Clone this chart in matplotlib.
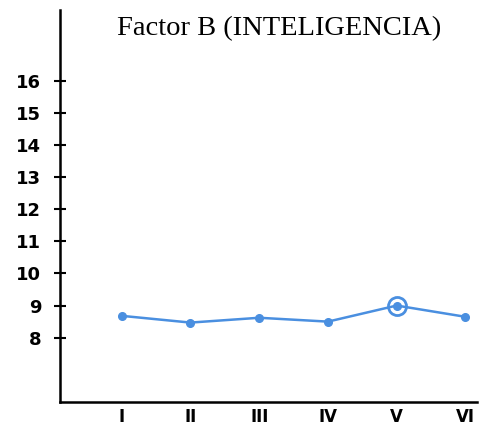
import matplotlib
matplotlib.use("Agg")
import matplotlib.pyplot as plt

categories = ["I", "II", "III", "IV", "V", "VI"]
values = [8.68, 8.47, 8.62, 8.50, 9.00, 8.65]
yticks = [8, 9, 10, 11, 12, 13, 14, 15, 16]
highlight_index = 4
title = "Factor B (INTELIGENCIA)"

color = "#4a8fe0"

fig = plt.figure(figsize=(4.79, 4.29), dpi=100)
ax = fig.add_axes([0.125, 0.063, 0.871, 0.914])

x = list(range(1, len(categories) + 1))
ax.plot(x, values, color=color, lw=1.8, marker="o", ms=5.5, zorder=3)
ax.plot([x[highlight_index]], [values[highlight_index]], marker="o", ms=13,
        mfc="none", mec=color, mew=2.0, zorder=4)

ax.set_xlim(0.1, 6.17)
ax.set_ylim(6.0, 18.2)

ax.spines["top"].set_visible(False)
ax.spines["right"].set_visible(False)
ax.spines["left"].set_linewidth(1.8)
ax.spines["bottom"].set_linewidth(1.8)

ax.set_yticks(yticks)
ax.set_yticklabels([str(t) for t in yticks], fontsize=13, fontweight="bold",
                   family="DejaVu Sans")
ax.tick_params(axis="y", direction="inout", length=9, width=1.5, pad=9)

ax.set_xticks(x)
ax.set_xticklabels(categories, fontsize=12, fontweight="bold", family="DejaVu Sans")
ax.tick_params(axis="x", length=0, pad=4)

fig.text(0.582, 0.933, title, ha="center", va="center", fontsize=20.5,
         family="Liberation Serif")

fig.savefig("out.png", dpi=100)
